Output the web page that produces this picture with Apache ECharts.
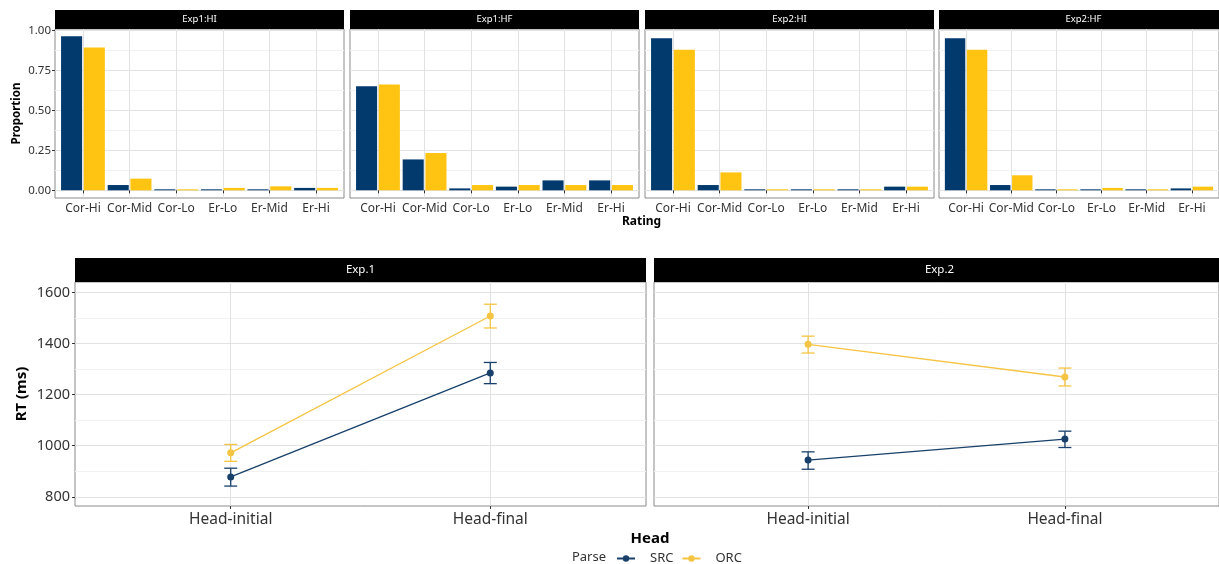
<!DOCTYPE html>
<html><head><meta charset="utf-8">
<script src="https://cdn.jsdelivr.net/npm/echarts@6/dist/echarts.min.js"></script>
<style>html,body{margin:0;padding:0;background:#fff}#c{width:1219px;height:564px}</style>
</head><body><div id="c"></div>
<script>
// ---------- data ----------
const ratingCats = ['Cor-Hi', 'Cor-Mid', 'Cor-Lo', 'Er-Lo', 'Er-Mid', 'Er-Hi'];
const topPanels = ['Exp1:HI', 'Exp1:HF', 'Exp2:HI', 'Exp2:HF'];
const exp1HI_SRC = [0.963, 0.033, 0.006, 0.004, 0.004, 0.015];
const exp1HI_ORC = [0.892, 0.073, 0.002, 0.015, 0.025, 0.015];
const exp1HF_SRC = [0.651, 0.193, 0.012, 0.023, 0.062, 0.062];
const exp1HF_ORC = [0.661, 0.233, 0.033, 0.033, 0.033, 0.033];
const exp2HI_SRC = [0.950, 0.033, 0.004, 0.004, 0.004, 0.023];
const exp2HI_ORC = [0.879, 0.112, 0.002, 0.002, 0.002, 0.023];
const exp2HF_SRC = [0.950, 0.033, 0.004, 0.004, 0.004, 0.012];
const exp2HF_ORC = [0.879, 0.094, 0.002, 0.015, 0.002, 0.023];
const propTicks = [0, 0.25, 0.5, 0.75, 1];
const propMinor = [0.125, 0.375, 0.625, 0.875];

const headCats = ['Head-initial', 'Head-final'];
const bottomPanels = ['Exp.1', 'Exp.2'];
const exp1RT_SRC = [878, 1285];
const exp1RT_SRC_lo = [842, 1243];
const exp1RT_SRC_hi = [912, 1326];
const exp1RT_ORC = [972, 1508];
const exp1RT_ORC_lo = [939, 1461];
const exp1RT_ORC_hi = [1005, 1554];
const exp2RT_SRC = [944, 1026];
const exp2RT_SRC_lo = [908, 993];
const exp2RT_SRC_hi = [976, 1057];
const exp2RT_ORC = [1397, 1269];
const exp2RT_ORC_lo = [1363, 1234];
const exp2RT_ORC_hi = [1429, 1304];
const rtTicks = [800, 1000, 1200, 1400, 1600];
const rtMinor = [900, 1100, 1300, 1500];
const parseNames = ['SRC', 'ORC'];

// ---------- style / layout ----------
const FONT = '"Noto Sans", sans-serif';
const NAVY = '#023a6e';
const YEL = '#ffc412';
const NAVY_L = '#18406a';
const YEL_L = '#f5c443';
const GRID_MAJ = '#e2e2e2';
const GRID_MIN = '#f1f1f1';
const BORDER = '#8a8a8a';
const TXT = '#333333';

const TOP = { lefts: [55, 350, 645, 939], width: 289, top: 29, height: 169, stripTop: 10, stripH: 19 };
const BOT = { lefts: [75, 654], width: 571, top: 282, height: 224, stripTop: 258, stripH: 24 };

const topSRC = [exp1HI_SRC, exp1HF_SRC, exp2HI_SRC, exp2HF_SRC];
const topORC = [exp1HI_ORC, exp1HF_ORC, exp2HI_ORC, exp2HF_ORC];
const botSRC = [[exp1RT_SRC, exp1RT_SRC_lo, exp1RT_SRC_hi], [exp2RT_SRC, exp2RT_SRC_lo, exp2RT_SRC_hi]];
const botORC = [[exp1RT_ORC, exp1RT_ORC_lo, exp1RT_ORC_hi], [exp2RT_ORC, exp2RT_ORC_lo, exp2RT_ORC_hi]];

const ratingPos = ratingCats.map((_, i) => i + 1);
const headPos = headCats.map((_, i) => i + 1);

const grid = [], xAxis = [], yAxis = [], lineSeries = [], otherSeries = [], graphic = [];

function addMinorAxis(gi, min, max, vals) {
  yAxis.push({
    type: 'value', gridIndex: gi, min: min, max: max, position: 'left',
    axisLine: { show: false }, axisLabel: { show: false },
    axisTick: { show: false, customValues: vals },
    splitLine: { show: true, lineStyle: { color: GRID_MIN, width: 1 } }
  });
  return yAxis.length - 1;
}

// top panels
TOP.lefts.forEach((left, i) => {
  grid.push({ left: left, top: TOP.top, width: TOP.width, height: TOP.height, show: true,
    borderColor: BORDER, borderWidth: 1, backgroundColor: 'transparent' });
  const gi = grid.length - 1;
  xAxis.push({
    type: 'value', gridIndex: gi, min: 0.4, max: 6.6,
    axisLine: { show: false },
    axisTick: { show: true, length: 3, customValues: ratingPos, lineStyle: { color: TXT } },
    axisLabel: { customValues: ratingPos, formatter: v => ratingCats[Math.round(v) - 1],
      fontSize: 12, color: TXT, fontFamily: FONT, margin: 5 },
    splitLine: { show: true, lineStyle: { color: GRID_MAJ, width: 1 } }
  });
  const xi = xAxis.length - 1;
  addMinorAxis(gi, -0.048, 1.008, propMinor);
  yAxis.push({
    type: 'value', gridIndex: gi, min: -0.048, max: 1.008, position: 'left',
    axisLine: { show: false },
    axisTick: { show: i === 0, length: 3, customValues: propTicks, lineStyle: { color: TXT } },
    axisLabel: { show: i === 0, customValues: propTicks, formatter: v => v.toFixed(2),
      fontSize: 11.5, color: TXT, fontFamily: FONT, margin: 4 },
    splitLine: { show: true, lineStyle: { color: GRID_MAJ, width: 1 } },
    name: i === 0 ? 'Proportion' : '', nameLocation: 'middle', nameGap: 32,
    nameTextStyle: { fontWeight: 'bold', fontSize: 11.5, color: '#000', fontFamily: FONT }
  });
  const yi = yAxis.length - 1;
  [[topSRC[i], NAVY, 'SRC'], [topORC[i], YEL, 'ORC']].forEach(([vals, col, nm]) => {
    otherSeries.push({
      type: 'bar', name: nm, xAxisIndex: xi, yAxisIndex: yi,
      data: vals.map((v, k) => [ratingPos[k], v]),
      itemStyle: { color: col }, barCategoryGap: '6%', barGap: '8%', barMinHeight: 1,
      silent: true, z: 3
    });
  });
  graphic.push({ type: 'rect', shape: { x: left, y: TOP.stripTop, width: TOP.width, height: TOP.stripH },
    style: { fill: '#000' } });
  graphic.push({ type: 'text', x: left + TOP.width / 2, y: TOP.stripTop + TOP.stripH / 2,
    style: { text: topPanels[i], align: 'center', verticalAlign: 'middle', fill: '#fff', fontSize: 9.5, fontFamily: FONT } });
});

// bottom panels
BOT.lefts.forEach((left, j) => {
  grid.push({ left: left, top: BOT.top, width: BOT.width, height: BOT.height, show: true,
    borderColor: BORDER, borderWidth: 1, backgroundColor: 'transparent' });
  const gi = grid.length - 1;
  xAxis.push({
    type: 'value', gridIndex: gi, min: 0.4, max: 2.6,
    axisLine: { show: false },
    axisTick: { show: true, length: 3, customValues: headPos, lineStyle: { color: TXT } },
    axisLabel: { customValues: headPos, formatter: v => headCats[Math.round(v) - 1],
      fontSize: 15.5, color: TXT, fontFamily: FONT, margin: 6 },
    splitLine: { show: true, lineStyle: { color: GRID_MAJ, width: 1 } }
  });
  const xi = xAxis.length - 1;
  addMinorAxis(gi, 764, 1641, rtMinor);
  yAxis.push({
    type: 'value', gridIndex: gi, min: 764, max: 1641, position: 'left',
    axisLine: { show: false },
    axisTick: { show: j === 0, length: 3, customValues: rtTicks, lineStyle: { color: TXT } },
    axisLabel: { show: j === 0, customValues: rtTicks, formatter: v => String(v),
      fontSize: 14.5, color: TXT, fontFamily: FONT, margin: 5 },
    splitLine: { show: true, lineStyle: { color: GRID_MAJ, width: 1 } },
    name: j === 0 ? 'RT (ms)' : '', nameLocation: 'middle', nameGap: 46,
    nameTextStyle: { fontWeight: 'bold', fontSize: 15, color: '#000', fontFamily: FONT }
  });
  const yi = yAxis.length - 1;
  [[botSRC[j], NAVY_L, 'SRC'], [botORC[j], YEL_L, 'ORC']].forEach(([arr, col, nm]) => {
    const [mean, lo, hi] = arr;
    lineSeries.push({
      type: 'line', name: nm, xAxisIndex: xi, yAxisIndex: yi,
      data: mean.map((v, k) => [headPos[k], v]),
      symbol: 'circle', symbolSize: 7, showSymbol: true,
      lineStyle: { color: col, width: 1.3 }, itemStyle: { color: col },
      silent: true, z: 4, animation: false
    });
    otherSeries.push({
      type: 'custom', name: nm, xAxisIndex: xi, yAxisIndex: yi,
      data: mean.map((v, k) => [headPos[k], lo[k], hi[k]]),
      encode: { x: 0, y: [1, 2] },
      renderItem: function (params, api) {
        const x = api.value(0);
        const pLo = api.coord([x, api.value(1)]);
        const pHi = api.coord([x, api.value(2)]);
        const hw = 6.5;
        const st = { stroke: col, lineWidth: 1.3 };
        return { type: 'group', children: [
          { type: 'line', shape: { x1: pLo[0], y1: pLo[1], x2: pHi[0], y2: pHi[1] }, style: st },
          { type: 'line', shape: { x1: pLo[0] - hw, y1: pLo[1], x2: pLo[0] + hw, y2: pLo[1] }, style: st },
          { type: 'line', shape: { x1: pHi[0] - hw, y1: pHi[1], x2: pHi[0] + hw, y2: pHi[1] }, style: st }
        ] };
      },
      silent: true, z: 3
    });
  });
  graphic.push({ type: 'rect', shape: { x: left, y: BOT.stripTop, width: BOT.width, height: BOT.stripH },
    style: { fill: '#000' } });
  graphic.push({ type: 'text', x: left + BOT.width / 2, y: BOT.stripTop + BOT.stripH / 2,
    style: { text: bottomPanels[j], align: 'center', verticalAlign: 'middle', fill: '#fff', fontSize: 11.5, fontFamily: FONT } });
});

// axis titles & legend label
graphic.push({ type: 'text', x: TOP.lefts[0] + (TOP.lefts[3] + TOP.width - TOP.lefts[0]) / 2, y: 222,
  style: { text: 'Rating', align: 'center', verticalAlign: 'middle', fill: '#000', fontSize: 12, fontWeight: 'bold', fontFamily: FONT } });
graphic.push({ type: 'text', x: BOT.lefts[0] + (BOT.lefts[1] + BOT.width - BOT.lefts[0]) / 2, y: 539,
  style: { text: 'Head', align: 'center', verticalAlign: 'middle', fill: '#000', fontSize: 15, fontWeight: 'bold', fontFamily: FONT } });
graphic.push({ type: 'text', x: 606, y: 557,
  style: { text: 'Parse', align: 'right', verticalAlign: 'middle', fill: TXT, fontSize: 13, fontFamily: FONT } });

const option = {
  backgroundColor: '#ffffff',
  animation: false,
  textStyle: { fontFamily: FONT },
  grid: grid, xAxis: xAxis, yAxis: yAxis,
  legend: {
    data: parseNames, left: 611, top: 547, itemWidth: 18, itemHeight: 8, itemGap: 8,
    textStyle: { fontSize: 13, color: TXT, fontFamily: FONT, padding: [0, 0, 0, 10] },
    selectedMode: false
  },
  graphic: graphic,
  series: lineSeries.concat(otherSeries)
};
const chart = echarts.init(document.getElementById('c'), null, { renderer: 'canvas' });
chart.setOption(option);
</script></body></html>
